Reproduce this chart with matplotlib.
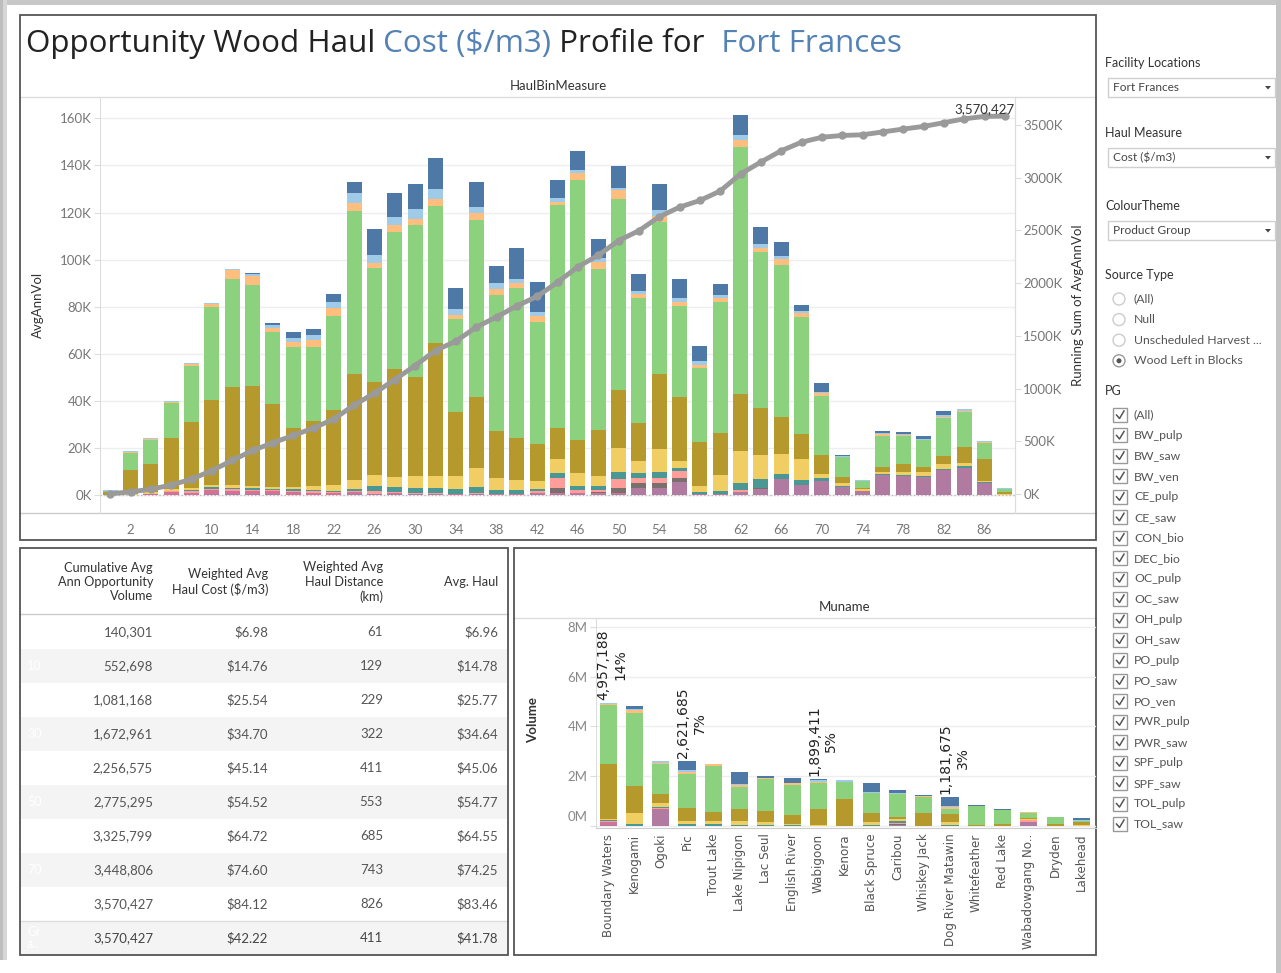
import matplotlib
matplotlib.use("Agg")
import matplotlib.pyplot as plt
import numpy as np
from matplotlib.patches import Rectangle, Circle, Polygon
from matplotlib.transforms import ScaledTranslation

plt.rcParams['font.family'] = ['Lato', 'DejaVu Sans']

# ---------------- data ----------------
haul_bins = [0, 2, 4, 6, 8, 10, 12, 14, 16, 18, 20, 22, 24, 26, 28, 30, 32, 34, 36, 38, 40,
             42, 44, 46, 48, 50, 52, 54, 56, 58, 60, 62, 64, 66, 68, 70, 72, 74, 76, 78, 80,
             82, 84, 86, 88]
bin_ticks = [2, 6, 10, 14, 18, 22, 26, 30, 34, 38, 42, 46, 50, 54, 58, 62, 66, 70, 74, 78, 82, 86]

# avg annual volume per haul bin (thousand m3), by product group, bottom to top
spf_pulp = [0, 0, 0, 0, 0, 0.3, 0.3, 0.3, 0.3, 0.2, 0.2, 0.2, 0.3, 0.3, 0.3, 0.3, 0.3, 0.2, 0.3, 0.2, 0.2,
            0.3, 0.3, 0.3, 0.3, 0.5, 3.0, 3.0, 5.7, 0.5, 0.5, 1.2, 2.5, 6.8, 4.2, 5.8, 3.4, 1.6, 8.5, 7.9, 7.5,
            10.8, 11.6, 5.3, 0]
pwr_pulp = [0, 0, 0.5, 1.2, 1.0, 1.7, 1.6, 1.4, 1.4, 1.0, 0.8, 0.5, 0.8, 0.3, 0.6, 0.2, 0.3, 0.1, 0.2, 0.1, 0.1,
            0.4, 0.7, 0.5, 0.6, 0.5, 0, 0, 0, 0, 0, 0, 0, 0, 0, 0, 0, 0, 0, 0, 0,
            0, 0, 0, 0]
po_saw = [0, 0, 0, 0, 0, 0, 0, 0, 0, 0, 0, 0, 0, 0, 0, 0, 0, 0, 0, 0, 0,
          0.2, 2.0, 0.2, 0.5, 2.0, 1.9, 1.9, 1.7, 0, 0, 0, 0.5, 0, 0, 0, 0, 0, 0, 0, 0,
          0, 0, 0, 0]
po_pulp = [0, 0, 0, 0.4, 0.5, 0.6, 0.6, 0.5, 0.5, 0.6, 0.5, 0.4, 0.4, 0.9, 0.5, 0.3, 0.2, 0.2, 0.3, 0.2, 0.2,
           0.6, 4.4, 1.0, 0.6, 4.0, 2.5, 2.5, 3.0, 0, 0, 0.8, 0, 0, 0, 0, 0, 0, 0, 0, 0,
           0, 0, 0, 0]
oc_saw = [0, 0, 0, 0, 0.6, 0.6, 0.6, 0.6, 0.5, 0.6, 0.6, 0.7, 1.0, 2.2, 1.8, 2.1, 2.0, 2.0, 2.5, 1.8, 1.8,
          1.1, 2.0, 2.0, 2.0, 2.8, 1.8, 2.4, 0.9, 0.8, 1.0, 3.2, 3.6, 2.2, 2.2, 1.4, 0.6, 0.2, 0.5, 0.7, 0.5,
          0.4, 0.7, 0.2, 0]
oc_pulp = [0, 0.6, 0.7, 0.8, 1.0, 1.0, 1.2, 1.0, 0.7, 1.0, 1.9, 2.6, 3.9, 4.8, 4.6, 5.2, 5.3, 5.6, 8.2, 4.8, 4.1,
           3.4, 6.0, 5.4, 4.1, 10.1, 5.4, 9.7, 3.3, 2.6, 7.0, 13.5, 10.3, 8.4, 8.8, 1.9, 1.2, 0.6, 0.9, 1.3, 1.9,
           1.8, 1.4, 0.6, 0.6]
dec_bio = [1.2, 10.0, 12.0, 21.7, 27.9, 36.3, 41.7, 42.7, 35.4, 25.2, 27.4, 31.7, 45.0, 39.4, 45.6, 42.0, 56.6,
           27.3, 30.3, 20.1, 18.0,
           15.8, 13.2, 14.0, 19.5, 24.7, 16.1, 31.9, 26.9, 18.7, 18.0, 24.2, 19.9, 15.9, 10.7, 7.8, 2.3, 0.6, 1.8,
           3.1, 1.8, 3.6, 6.5, 9.4, 0.8]
con_bio = [0.3, 7.2, 10.2, 15.1, 24.0, 39.5, 45.9, 42.7, 30.5, 34.2, 31.4, 40.1, 69.2, 48.4, 58.5, 64.6, 58.1,
           39.4, 75.1, 57.8, 63.4,
           51.7, 94.6, 110.5, 68.3, 81.0, 52.8, 64.7, 38.9, 31.2, 55.3, 105.0, 66.6, 64.4, 49.8, 25.3, 8.6, 2.8,
           13.5, 12.0, 11.7, 16.2, 15.2, 6.6, 1.1]
ce_pulp = [0, 0.6, 0.6, 0.4, 0.5, 1.0, 3.5, 3.8, 1.7, 2.4, 3.2, 3.1, 3.5, 2.4, 2.8, 2.6, 2.8, 1.7, 2.9, 2.5, 2.1,
           2.5, 1.4, 2.9, 3.2, 3.9, 1.9, 2.5, 1.7, 1.4, 2.1, 3.1, 1.7, 2.5, 1.7, 1.0, 0, 0.2, 0.8, 0.4, 0,
           0.4, 0.3, 0.3, 0]
bw_saw = [0.6, 0.3, 0.4, 0.3, 0.4, 0.4, 0.5, 1.1, 1.2, 1.4, 2.0, 2.8, 4.4, 3.1, 3.5, 4.1, 4.4, 2.4, 2.5, 2.4, 1.7,
          1.9, 1.7, 1.1, 1.7, 1.0, 1.2, 2.4, 1.4, 1.7, 1.0, 1.9, 1.7, 1.5, 0.9, 0.7, 0.5, 0.4, 0.5, 0.5, 0.6,
          0.8, 0.8, 0.5, 0.3]
bw_pulp = [0, 0, 0, 0, 0, 0, 0, 0.4, 0.7, 2.8, 2.7, 3.3, 4.5, 11.1, 10.3, 10.9, 13.3, 9.0, 10.6, 7.2, 13.2,
           12.7, 7.7, 8.4, 7.8, 9.1, 7.4, 11.0, 8.1, 6.4, 4.6, 8.4, 6.9, 5.6, 2.4, 3.5, 0.3, 0, 0.8, 1.0, 1.1,
           1.5, 0, 0, 0.3]

pg_colors = ["#B07AA1", "#D37295", "#79706E", "#FF9D9A", "#499894", "#F1CE63",
             "#B6992D", "#8CD17D", "#FFBE7D", "#A0CBE8", "#4E79A7"]
bin_series = [spf_pulp, pwr_pulp, po_saw, po_pulp, oc_saw, oc_pulp, dec_bio, con_bio, ce_pulp, bw_saw, bw_pulp]

# volume by management unit (million m3), same product group order
munames = ["Boundary Waters", "Kenogami", "Ogoki", "Pic", "Trout Lake", "Lake Nipigon", "Lac Seul",
           "English River", "Wabigoon", "Kenora", "Black Spruce", "Caribou", "Whiskey Jack",
           "Dog River Matawin", "Whitefeather", "Red Lake", "Wabadowgang No..", "Dryden", "Lakehead"]
mu_spf_pulp = [0.05, 0, 0.7, 0, 0, 0, 0, 0, 0, 0, 0, 0.05, 0, 0, 0, 0, 0.16, 0, 0]
mu_pwr_pulp = [0.10, 0, 0, 0, 0, 0, 0, 0, 0, 0, 0, 0, 0, 0, 0, 0, 0, 0, 0]
mu_po_saw = [0, 0, 0, 0, 0, 0, 0, 0, 0, 0, 0, 0.03, 0, 0, 0, 0, 0, 0, 0]
mu_po_pulp = [0.05, 0, 0.03, 0, 0, 0, 0, 0, 0, 0, 0, 0.05, 0, 0, 0, 0, 0.08, 0, 0]
mu_oc_saw = [0.03, 0.1, 0.02, 0.07, 0.07, 0.06, 0.06, 0.05, 0, 0, 0.05, 0.06, 0, 0.05, 0, 0, 0, 0, 0]
mu_oc_pulp = [0.07, 0.43, 0.16, 0.13, 0.13, 0.14, 0.1, 0.04, 0.04, 0, 0.11, 0.08, 0, 0.11, 0, 0, 0.05, 0, 0.04]
mu_dec_bio = [2.2, 1.07, 0.38, 0.51, 0.37, 0.47, 0.44, 0.36, 0.63, 1.07, 0.37, 0.09, 0.53, 0.33, 0.04, 0.08,
              0.05, 0.1, 0.11]
mu_con_bio = [2.36, 2.93, 1.22, 1.38, 1.86, 0.9, 1.27, 1.18, 1.04, 0.69, 0.78, 0.92, 0.63, 0.19, 0.76, 0.55,
              0.19, 0.26, 0.06]
mu_ce_pulp = [0.05, 0.13, 0.04, 0.07, 0.08, 0.07, 0.07, 0.08, 0.07, 0, 0, 0, 0.05, 0.08, 0, 0, 0.02, 0, 0]
mu_bw_saw = [0.02, 0.03, 0.05, 0.1, 0, 0.06, 0, 0, 0.05, 0.07, 0.05, 0.06, 0, 0.06, 0, 0, 0, 0, 0.02]
mu_bw_pulp = [0.027, 0.14, 0, 0.362, 0, 0.47, 0.06, 0.21, 0.069, 0, 0.35, 0.1, 0.03, 0.362, 0.04, 0.04, 0, 0,
              0.08]
mu_series = [mu_spf_pulp, mu_pwr_pulp, mu_po_saw, mu_po_pulp, mu_oc_saw, mu_oc_pulp, mu_dec_bio,
             mu_con_bio, mu_ce_pulp, mu_bw_saw, mu_bw_pulp]
mu_label_idx = [0, 3, 8, 13]
mu_label_vol = [4957188, 2621685, 1899411, 1181675]
mu_label_pct = [14, 7, 5, 3]

# summary table
cum_vol = [140301, 552698, 1081168, 1672961, 2256575, 2775295, 3325799, 3448806, 3570427, 3570427]
w_cost = [6.98, 14.76, 25.54, 34.70, 45.14, 54.52, 64.72, 74.60, 84.12, 42.22]
w_dist = [61, 129, 229, 322, 411, 553, 685, 743, 826, 411]
avg_haul = [6.96, 14.78, 25.77, 34.64, 45.06, 54.77, 64.55, 74.25, 83.46, 41.78]
row_tags = ["", "10", "", "30", "", "50", "", "70", "", "Gr\na.."]

pg_list = ["(All)", "BW_pulp", "BW_saw", "BW_ven", "CE_pulp", "CE_saw", "CON_bio", "DEC_bio", "OC_pulp",
           "OC_saw", "OH_pulp", "OH_saw", "PO_pulp", "PO_saw", "PO_ven", "PWR_pulp", "PWR_saw",
           "SPF_pulp", "SPF_saw", "TOL_pulp", "TOL_saw"]
source_types = ["(All)", "Null", "Unscheduled Harvest ...", "Wood Left in Blocks"]

# ---------------- figure ----------------
W, H = 1281, 973
fig = plt.figure(figsize=(W / 100, H / 100), dpi=100)
fig.patch.set_facecolor("white")


def box(x0, y0, x1, y1):
    return [x0 / W, 1 - y1 / H, (x1 - x0) / W, (y1 - y0) / H]


bg = fig.add_axes([0, 0, 1, 1])
bg.set_xlim(0, W)
bg.set_ylim(H, 0)
bg.axis("off")

dark = "#333333"
blue = "#5482B4"
grey_txt = "#777777"

# screenshot shadow
bg.add_patch(Rectangle((0, 0), W, 5, fc="#c8c8c8", ec="none"))
bg.add_patch(Rectangle((0, 0), 3, 960, fc="#bdbdbd", ec="none"))
bg.add_patch(Rectangle((3, 0), 4, 960, fc="#d6d6d6", ec="none"))
bg.add_patch(Rectangle((1276, 0), 5, H, fc="#c4c4c4", ec="none"))

# panel borders
for x0, y0, w, h in [(20, 15, 1076, 525), (20, 548, 488, 407), (514, 548, 582, 407)]:
    bg.add_patch(Rectangle((x0, y0), w, h, fill=False, ec="#555555", lw=1.3, zorder=5))

# title (fit to width)
r = fig.canvas.get_renderer()
parts = [("Opportunity Wood Haul", "#222222"), (" Cost ($/m3)", blue), (" Profile for", "#222222"),
         ("  Fort Frances", blue)]
tmp = bg.text(0, 0, "".join(p[0] for p in parts), fontsize=20, family="Open Sans")
tsize = 20 * 874 / tmp.get_window_extent(renderer=r).width
tmp.remove()
tx = 26
for s, c in parts:
    t = bg.text(tx, 44, s, color=c, fontsize=tsize, va="center", ha="left", family="Open Sans")
    tx += t.get_window_extent(renderer=r).width

# ---------------- main chart ----------------
bg.text(558, 86, "HaulBinMeasure", ha="center", va="center", fontsize=9.5, color=dark)
bg.plot([20, 1096], [97, 97], color="#dddddd", lw=1)
bg.plot([20, 1096], [513, 513], color="#cccccc", lw=1)
bg.text(38, 305, "AvgAnnVol", rotation=90, ha="center", va="center", fontsize=9.5, color=dark)
bg.text(1078, 305, "Running Sum of AvgAnnVol", rotation=90, ha="center", va="center", fontsize=9.5,
        color=dark)

ax = fig.add_axes(box(100, 97, 1015, 513))
ax.set_facecolor("none")
bottom = np.zeros(len(haul_bins))
for vals, col in zip(bin_series, pg_colors):
    v = np.array(vals)
    ax.bar(haul_bins, v, 1.5, bottom=bottom, color=col, linewidth=0, zorder=2)
    bottom += v
ax.set_xlim(-1, 89)
ax.set_ylim(-7.65, 169.1)
ax.set_yticks([0, 20, 40, 60, 80, 100, 120, 140, 160])
ax.set_yticklabels([f"{v}K" for v in [0, 20, 40, 60, 80, 100, 120, 140, 160]])
ax.set_xticks(bin_ticks)
ax.set_xticklabels([str(b) for b in bin_ticks])
ax.yaxis.grid(True, color="#eeeeee", lw=1)
ax.set_axisbelow(True)
ax.axhline(0, color="#bbbbbb", ls=":", lw=1, zorder=1)
ax.tick_params(axis="y", length=4, color="#dddddd", labelcolor=grey_txt, labelsize=9.5, pad=2)
ax.tick_params(axis="x", length=0, labelcolor=grey_txt, labelsize=9.5, pad=8)
for s in ["top", "bottom"]:
    ax.spines[s].set_visible(False)
ax.spines["left"].set_color("#dddddd")
ax.spines["right"].set_color("#dddddd")

ax2 = ax.twinx()
running = np.cumsum(bottom)
ax2.plot(haul_bins, running, color="#9a9a9a", lw=3.5, marker="o", ms=5, zorder=3)
ax2.set_ylim(-180, 3765.5)
rt = [0, 500, 1000, 1500, 2000, 2500, 3000, 3500]
ax2.set_yticks(rt)
ax2.set_yticklabels([f"{v}K" for v in rt])
ax2.tick_params(axis="y", length=4, color="#dddddd", labelcolor=grey_txt, labelsize=9.5, pad=2)
for s in ["top", "bottom", "left"]:
    ax2.spines[s].set_visible(False)
ax2.spines["right"].set_color("#dddddd")
ax2.annotate(f"{cum_vol[-1]:,}", (haul_bins[-1], running[-1]), xytext=(7, 1), textcoords="offset points",
             ha="right", va="bottom", fontsize=9.5, color="#333333")

# ---------------- table ----------------
bg.plot([20, 508], [614, 614], color="#cccccc", lw=1)
col_right = [153, 268, 383, 498]
headers = ["Cumulative Avg\nAnn Opportunity\nVolume", "Weighted Avg\nHaul Cost ($/m3)",
           "Weighted Avg\nHaul Distance\n(km)", "Avg. Haul"]
for xr, h in zip(col_right, headers):
    bg.text(xr, 582, h, ha="right", va="center", multialignment="right", fontsize=9.2, color=dark,
            linespacing=1.25)
for i in range(len(cum_vol)):
    yc = 632 + 34 * i
    if i % 2 == 1:
        bg.add_patch(Rectangle((21, yc - 17), 486, 34, fc="#f4f4f4", ec="none"))
    if i == len(cum_vol) - 1:
        bg.plot([21, 507], [yc - 17, yc - 17], color="#dddddd", lw=1)
    bg.text(27, yc, row_tags[i], ha="left", va="center", fontsize=9, color="white", linespacing=1.1)
    col = "#444444" if i == len(cum_vol) - 1 else "#555555"
    vals = [f"{cum_vol[i]:,}", f"${w_cost[i]:.2f}", f"{w_dist[i]}", f"${avg_haul[i]:.2f}"]
    for xr, v in zip(col_right, vals):
        bg.text(xr, yc, v, ha="right", va="center", fontsize=9.5, color=col)

# ---------------- muname chart ----------------
bg.text(845, 607, "Muname", ha="center", va="center", fontsize=9.5, color=dark)
bg.plot([514, 1096], [618, 618], color="#dddddd", lw=1)
bg.text(533, 720, "Volume", rotation=90, ha="center", va="center", fontsize=9.5, color=dark,
        fontweight="bold")

axm = fig.add_axes(box(596, 618, 1096, 828))
axm.set_facecolor("none")
xm = np.arange(len(munames))
mb = np.zeros(len(munames))
for vals, col in zip(mu_series, pg_colors):
    v = np.array(vals)
    axm.bar(xm, v, 0.65, bottom=mb, color=col, linewidth=0, zorder=2)
    mb += v
axm.set_xlim(-0.46, 18.55)
axm.set_ylim(-0.08, 8.36)
axm.set_yticks([0, 2, 4, 6, 8])
axm.set_yticklabels([f"{v}M" for v in [0, 2, 4, 6, 8]])
axm.yaxis.grid(True, color="#eeeeee", lw=1)
axm.set_axisbelow(True)
axm.tick_params(axis="y", length=4, color="#dddddd", labelcolor="#888888", labelsize=9.5, pad=2)
axm.set_xticks(xm)
axm.set_xticklabels(munames, rotation=90, family="DejaVu Sans", fontsize=8.6, color="#555555")
axm.tick_params(axis="x", length=0, pad=4)
lab0 = axm.get_yticklabels()[0]
lab0.set_transform(lab0.get_transform() + ScaledTranslation(0, 7 / 72, fig.dpi_scale_trans))
for s in ["top", "right"]:
    axm.spines[s].set_visible(False)
axm.spines["left"].set_color("#dddddd")
axm.spines["bottom"].set_color("#cccccc")
for i, vol, pct in zip(mu_label_idx, mu_label_vol, mu_label_pct):
    axm.annotate(f"{vol:,}\n{pct}%", (xm[i], mb[i]), xytext=(3, 2), textcoords="offset points",
                 rotation=90, ha="center", va="bottom", multialignment="center", fontsize=10,
                 family="DejaVu Sans", color="#222222", linespacing=1.3)

# ---------------- right control panel ----------------
def dropdown(y_lab, label, value):
    bg.text(1105, y_lab, label, ha="left", va="center", fontsize=9, color=dark)
    y0 = y_lab + 15
    bg.add_patch(Rectangle((1108, y0), 167, 19, fc="white", ec="#d0d0d0", lw=1))
    bg.text(1113, y0 + 9.5, value, ha="left", va="center", fontsize=8.6, color="#444444")
    bg.add_patch(Polygon([(1265, y0 + 8), (1271, y0 + 8), (1268, y0 + 11.5)], closed=True, fc="#444444",
                         ec="none"))


dropdown(63, "Facility Locations", "Fort Frances")
dropdown(133, "Haul Measure", "Cost ($/m3)")
dropdown(206, "ColourTheme", "Product Group")

bg.text(1105, 275, "Source Type", ha="left", va="center", fontsize=9, color=dark)
for i, s in enumerate(source_types):
    yc = 299 + 20.6 * i
    sel = s == "Wood Left in Blocks"
    bg.add_patch(Circle((1119, yc), 6, fc="white", ec="#999999" if sel else "#cccccc", lw=1))
    if sel:
        bg.add_patch(Circle((1119, yc), 2.5, fc="#555555", ec="none"))
    bg.text(1134, yc, s, ha="left", va="center", fontsize=8.8, color="#555555")

bg.text(1105, 391, "PG", ha="left", va="center", fontsize=9, color=dark)
for i, s in enumerate(pg_list):
    yc = 415 + 20.45 * i
    bg.add_patch(Rectangle((1113, yc - 7), 14, 14, fill=False, ec="#999999", lw=1))
    bg.plot([1116.5, 1119.5, 1124], [yc, yc + 3.5, yc - 4], color="#555555", lw=1.1)
    bg.text(1134, yc, s, ha="left", va="center", fontsize=8.8, color="#555555")

fig.savefig("out.png", dpi=100)
